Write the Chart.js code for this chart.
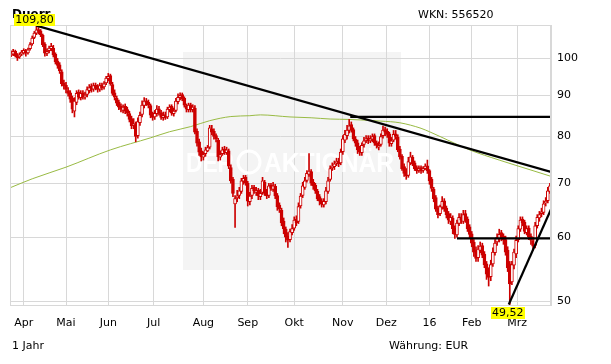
<!DOCTYPE html>
<html>
<head>
<meta charset="utf-8">
<script src="https://cdn.jsdelivr.net/npm/chart.js@4.4.1/dist/chart.umd.min.js"></script>
<style>
  html, body { margin: 0; padding: 0; background: #fff; }
  #wrap { width: 611px; height: 364px; position: relative; }
</style>
</head>
<body>
<div id="wrap"><canvas id="chart"></canvas></div>
<script>
// daily candles, one per trading day (Mar 2015 - Mar 2016)
var open = [
  101, 101.2, 102, 101, 100.4, 101.2, 101.6, 102.2, 101.6, 102.8,
  104.2, 106.2, 107.5, 108.6, 108.2, 106.8, 104.2, 101.4, 102.2, 102.8,
  103, 101.2, 99.2, 98.2, 96.2, 93.2, 92.6, 91.2, 90.6, 89.2,
  86, 88.2, 90.8, 89.4, 90.6, 89.6, 90.2, 91.2, 92.4, 91.6,
  92.6, 92.2, 91.6, 92.6, 92.2, 93.2, 94.4, 95.2, 92.8, 90.6,
  89.2, 88.2, 87.2, 86.2, 87.2, 86.4, 85.4, 84.2, 82.6, 82.8,
  80.2, 83.2, 85.2, 87.4, 88.6, 88.2, 87.4, 85.2, 84.6, 85.4,
  86.6, 85.6, 84.4, 85.2, 84.6, 86.4, 87.2, 85.4, 86.2, 88.4,
  89.4, 90.2, 89.2, 87.4, 86.4, 87.6, 86.4, 86.8, 81.2, 78.8,
  76.8, 75.4, 76.2, 76.8, 77.6, 81.8, 81.2, 80.2, 79.2, 75.4,
  76.2, 77.2, 76.4, 76.8, 73.2, 70.8, 66, 67.2, 67.6, 68.4,
  70.4, 71.2, 70, 66.4, 67.6, 69.2, 68.2, 68.6, 67.4, 68.2,
  70.2, 68.2, 67.6, 69.6, 68.8, 69.4, 67.6, 65.8, 64.8, 62.8,
  61.4, 60.2, 59.6, 60.8, 61.6, 63.2, 62.8, 65.6, 67.6, 69.2,
  70.6, 71.8, 72.4, 70.2, 69.6, 68.4, 67.4, 66.6, 65.8, 66.4,
  68.4, 70.8, 73.2, 73.4, 74.2, 74.6, 74.2, 76.6, 79.2, 80.2,
  81.4, 82.8, 81.6, 79.4, 78.6, 77.2, 76.4, 78.2, 79.2, 79.6,
  79, 79.4, 80.2, 78.6, 77.6, 78.2, 80.2, 81.6, 81.2, 80.6,
  78.4, 79.2, 80.6, 79.8, 77.2, 75.6, 73.4, 72.4, 71.6, 74.2,
  75.4, 74.2, 73.2, 72.6, 73.2, 72.6, 73, 73.6, 72.6, 70.8,
  68.8, 67.2, 65.2, 64.2, 65.4, 66.6, 65.2, 64.2, 62.8, 63.4,
  61.6, 60.4, 62.4, 63.6, 62.8, 64.2, 63.2, 61.8, 60.6, 59.2,
  57.8, 56.6, 57.8, 58.6, 57.2, 55.6, 54.2, 53.6, 55.6, 57.4,
  59.2, 59.8, 60.8, 60.2, 59.6, 57.8, 55.6, 52.8, 55.4, 57.2,
  59.6, 61.4, 63.2, 62.6, 60.8, 61.6, 60.2, 59.4, 58.6, 62,
  63.4, 64.2, 64.4, 66.2, 66.6, 68.4
];
var high = [
  102.2, 102.6, 102.4, 101.4, 101.6, 102.3, 102.8, 102.6, 103, 104.6,
  106.6, 108, 109.8, 109.2, 108.6, 107.2, 104.6, 102.8, 103.6, 104.4,
  103.8, 101.6, 100, 98.8, 96.8, 94, 93.4, 92, 91.2, 89.8,
  89.4, 91.2, 91.4, 91.2, 91.2, 90.8, 92.2, 92.8, 93, 93.2,
  93.2, 92.8, 93.2, 93.2, 93.6, 95, 95.8, 95.6, 93.4, 91.4,
  89.8, 88.8, 87.8, 87.6, 87.8, 87, 86, 84.8, 84.2, 83.4,
  84.4, 85.8, 88.6, 89.4, 89.2, 88.8, 87.8, 85.8, 86.2, 87.4,
  87.2, 86.2, 85.8, 85.8, 87, 87.6, 87.6, 86.8, 89.2, 90.4,
  90.6, 90.6, 89.6, 87.8, 88, 88, 87.6, 87.4, 81.8, 79.4,
  77.4, 76.6, 77.6, 78, 82.6, 82.6, 81.8, 80.6, 79.6, 76.8,
  77.6, 77.8, 77.6, 77.2, 73.8, 71.2, 67.6, 68.6, 69.2, 71,
  71.6, 71.6, 70.4, 68.2, 69.6, 69.6, 69.2, 69, 68.8, 71.2,
  70.6, 68.8, 70, 70, 70.2, 69.8, 68, 66.2, 65.2, 63.4,
  61.8, 60.8, 61.4, 62.2, 63.6, 63.8, 66.2, 68, 70.2, 71.2,
  72.6, 76.2, 72.8, 70.8, 70, 68.8, 67.8, 67, 67, 69.2,
  71.2, 73.6, 74.2, 74.6, 75.2, 75.2, 77.2, 80.2, 81.4, 82.6,
  84, 83.4, 82, 80, 79.2, 77.8, 78.6, 79.8, 80.2, 80.2,
  80.2, 80.6, 80.6, 79, 78.8, 80.6, 82.4, 82.2, 81.8, 81,
  79.8, 81.4, 81.4, 80.4, 77.8, 76, 74, 73, 75.4, 76.5,
  75.8, 74.6, 73.6, 73.6, 73.6, 73.4, 74, 74.8, 72.8, 71.2,
  69.2, 67.6, 65.6, 65.8, 67.4, 67, 65.6, 64.6, 64.2, 63.8,
  62, 63, 64.2, 64.2, 64.8, 64.8, 63.6, 62.2, 61, 59.6,
  58.4, 58.6, 59.2, 59, 57.6, 56, 55, 56.2, 58.2, 59.6,
  60.6, 61.4, 61.2, 60.6, 60.2, 58.4, 56, 56, 58, 60.2,
  62, 63.6, 63.6, 63, 62, 62, 60.6, 60, 62.6, 64,
  64.6, 65.2, 66.6, 67.2, 69.2, 70
];
var low = [
  100.5, 100.8, 100.4, 99.4, 100, 100.8, 101.2, 100.6, 101.2, 102.4,
  103.8, 105.8, 107, 107.2, 106.4, 103.4, 100.6, 100.8, 101.6, 102.2,
  100.4, 98.4, 97.2, 95.8, 92.4, 91.6, 90.6, 89.8, 88.2, 85.6,
  84.6, 87.6, 89, 88.8, 89, 89, 89.6, 90.6, 90.8, 91,
  91.4, 90.8, 91, 91.4, 91.6, 92.8, 93.8, 92.6, 90, 88.8,
  87.4, 86.4, 85.8, 85.6, 85.4, 84.8, 83.4, 81.8, 81.8, 78.8,
  79.6, 82.6, 84.6, 86.8, 87.4, 86.8, 84.4, 83.8, 84, 84.8,
  85, 84, 83.8, 84, 84.2, 85.8, 85, 84.8, 85.8, 87.8,
  88.8, 88.6, 87, 85.8, 85.8, 85.8, 85.8, 80.6, 77.8, 75.8,
  74.6, 74.8, 75.6, 76.6, 77.2, 80.4, 79.4, 78.8, 74.6, 74.8,
  75.8, 76, 76, 73, 70, 67.4, 61.7, 66.4, 67, 68,
  69.8, 69.6, 65.6, 65.8, 67, 68, 67.6, 66.8, 66.8, 67.8,
  67.6, 67, 67.2, 68.6, 68.4, 67, 64.8, 64.4, 62, 60.6,
  59.2, 58.3, 59.2, 60.4, 61.2, 62, 62.4, 65.2, 67.2, 68.8,
  70.2, 71.4, 69.6, 68.8, 68, 66.6, 65.8, 65.4, 65.4, 66,
  68, 70.4, 72.6, 72.8, 73.6, 73.4, 73.8, 76, 78.6, 79.4,
  80.8, 81, 79, 77.8, 76.2, 75.8, 75.8, 77.6, 78.6, 78.4,
  78.6, 78.8, 78, 77.4, 77, 77.8, 79.6, 80.2, 79.8, 77.8,
  77.8, 78.8, 79.4, 76.6, 75, 72.6, 71.4, 70.8, 71.2, 73.8,
  73.6, 72.6, 72, 72.2, 72, 72.2, 72.8, 72, 69.8, 68.4,
  66.4, 64.6, 63.4, 63.8, 65, 64.6, 63.4, 62.4, 62.2, 60.6,
  59.8, 60, 62, 62.4, 62.4, 62.6, 61, 59.8, 58.4, 56.8,
  56, 56, 57.4, 56.6, 55, 53.2, 52.2, 53, 55.2, 57,
  58.6, 59.2, 59.4, 58.8, 57, 54.4, 49.52, 52.4, 54.8, 56.6,
  59.2, 61, 62, 60.6, 60.4, 59.6, 58.8, 57.8, 58.2, 61.6,
  62.8, 63.6, 64, 65.6, 66.2, 68
];
var close = [
  101.5, 102, 100.8, 100.2, 101, 101.8, 102.3, 101.5, 102.5, 104,
  106, 107.5, 108.5, 108, 107, 104, 101.5, 102, 103, 103.5,
  101, 99, 98, 96.5, 93, 92.5, 91.5, 90.5, 89, 86.5,
  88.5, 90.5, 89.5, 90.5, 89.5, 90, 91.5, 92, 91.5, 92.5,
  92, 91.5, 92.5, 92, 93, 94.5, 95, 93, 90.5, 89.5,
  88, 87, 86.5, 87, 86, 85.5, 84, 82.5, 83, 80,
  83.5, 85, 87.5, 88.5, 88, 87.5, 85, 84.5, 85.5, 86.5,
  85.5, 84.5, 85, 84.5, 86.5, 87, 85.5, 86, 88.5, 89.5,
  90, 89, 87.5, 86.5, 87.5, 86.5, 87, 81, 78.5, 76.5,
  75.5, 76, 77, 77.5, 82, 81, 80, 79.5, 75.5, 76,
  77, 76.5, 77, 73.5, 70.5, 68, 67, 67.5, 68.5, 70.5,
  71, 70, 66.5, 67.5, 69, 68.5, 68.5, 67.5, 68, 70.5,
  68, 67.5, 69.5, 69, 69.5, 67.5, 65.5, 65, 62.5, 61.5,
  60, 59.5, 61, 61.5, 63, 62.5, 65.5, 67.5, 69.5, 70.5,
  72, 72.5, 70, 69.5, 68.5, 67, 66.5, 66, 66.5, 68.5,
  70.5, 73, 73.5, 74, 74.5, 74, 76.5, 79.5, 80.5, 81.5,
  82.5, 81.5, 79.5, 78.5, 77, 76.5, 78, 79, 79.5, 79,
  79.5, 80, 78.5, 78, 78, 80, 81.5, 81, 80.5, 78.5,
  79, 80.5, 80, 77, 75.5, 73, 72, 71.5, 74.5, 75.5,
  74, 73, 72.5, 73, 72.5, 73, 73.5, 72.5, 70.5, 69,
  67, 65, 64, 65.5, 66.5, 65, 64, 63, 63.5, 61.5,
  60.5, 62.5, 63.5, 63, 64, 63, 61.5, 60.5, 59, 57.5,
  56.5, 58, 58.5, 57, 55.5, 54, 53.5, 55.5, 57.5, 59,
  60, 60.5, 60, 59.5, 57.5, 55, 52.5, 55.5, 57.5, 59.5,
  61.5, 63, 62.5, 61, 61.5, 60, 59.5, 58.5, 62, 63.5,
  64, 64.5, 66, 66.5, 68.5, 69.5
];

// 200-day average, read at a few places along the curve
var maIdx = [-0.5, 10, 26, 47, 66, 75, 85, 94, 104, 113, 118, 132, 142, 151, 160, 175, 184, 194, 198, 203, 217, 231, 246, 255.5];
var maVal = [69.1, 70.9, 73.3, 77.0, 79.7, 81.1, 82.3, 83.7, 84.7, 84.9, 85.1, 84.6, 84.4, 84.1, 84.0, 83.6, 83.2, 81.9, 81.1, 80.0, 77.0, 74.8, 72.7, 71.4];

// trend lines: [startIdx, startVal, endIdx, endVal]
var trendDown = [12, 109.8, 255.5, 72.3];
var resistance = [160.5, 84.6, 255.5, 84.6];
var support = [211, 59.8, 255.5, 59.8];
var trendUp = [235.5, 49.52, 255.5, 65.0];

var monthLabels = ['Apr', 'Mai', 'Jun', 'Jul', 'Aug', 'Sep', 'Okt', 'Nov', 'Dez', '16', 'Feb', 'Mrz'];
var monthIdx = [6, 26, 46, 67.5, 91, 112, 134, 157, 177.5, 198, 218, 239.5];
var yTicks = [50, 60, 70, 80, 90, 100];

var red = '#cc0000';
var gridCol = '#d8d8d8';
var font = '"DejaVu Sans", Verdana, sans-serif';

var wickData = close.map(function(c, i) { return {x: i, y: [low[i], high[i]]}; });
var bodyData = close.map(function(c, i) { return {x: i, y: [open[i], c]}; });
var bodyFill = close.map(function(c, i) { return c >= open[i] ? '#ffffff' : red; });
var maData = maIdx.map(function(x, i) { return {x: x, y: maVal[i]}; });

function seg(t) { return [{x: t[0], y: t[1]}, {x: t[2], y: t[3]}]; }
function lineSet(t) {
  return {
    type: 'line', data: seg(t), borderColor: '#000', borderWidth: 2.2,
    pointRadius: 0, order: 0
  };
}

function tag(ctx, txt, cx, y, top) {
  ctx.font = '11px ' + font;
  var w = ctx.measureText(txt).width + 3;
  var yy = top ? y : y - 12;
  ctx.fillStyle = '#ffff00';
  ctx.fillRect(Math.round(cx - w / 2), Math.round(yy), Math.round(w), 12);
  ctx.fillStyle = '#000';
  ctx.textAlign = 'center';
  ctx.textBaseline = 'middle';
  ctx.fillText(txt, cx, yy + 6.5);
}

var decor = {
  id: 'decor',
  beforeDraw: function(chart) {
    var ctx = chart.ctx;
    ctx.save();
    ctx.fillStyle = '#fff';
    ctx.fillRect(0, 0, chart.width, chart.height);
    // watermark panel
    ctx.fillStyle = '#f4f4f4';
    ctx.fillRect(183, 52, 218, 218);
    ctx.restore();
  },
  beforeDatasetsDraw: function(chart) {
    var ctx = chart.ctx;
    ctx.save();
    ctx.fillStyle = '#ffffff';
    ctx.strokeStyle = '#ffffff';
    ctx.font = 'bold 28px "Liberation Sans", Arial, sans-serif';
    ctx.textBaseline = 'alphabetic';
    ctx.textAlign = 'left';
    ctx.fillText('DER', 186, 172, 48);
    ctx.lineWidth = 3;
    ctx.beginPath();
    ctx.arc(249, 162, 11, 0, Math.PI * 2);
    ctx.stroke();
    ctx.fillText('AKTIONÄR', 264, 172, 130);
    ctx.restore();
  },
  afterDraw: function(chart) {
    var ctx = chart.ctx;
    var a = chart.chartArea;
    var xs = chart.scales.x, ys = chart.scales.y;
    ctx.save();
    ctx.strokeStyle = gridCol;
    ctx.lineWidth = 1;
    ctx.strokeRect(a.left + 0.5, a.top + 0.5, a.right - a.left - 1, a.bottom - a.top);

    ctx.fillStyle = '#000';
    ctx.textAlign = 'left';
    ctx.textBaseline = 'alphabetic';
    ctx.font = 'bold 12px ' + font;
    ctx.fillText('Duerr', 12, 18);
    ctx.font = '11px ' + font;
    ctx.fillText('WKN: 556520', 418, 18);
    ctx.textBaseline = 'middle';
    ctx.fillText('1 Jahr', 12, 346);
    ctx.fillText('Währung: EUR', 389, 346);

    // high / low tags
    var hi = 0, lo = 0;
    for (var i = 0; i < high.length; i++) {
      if (high[i] > high[hi]) hi = i;
      if (low[i] < low[lo]) lo = i;
    }
    tag(ctx, high[hi].toFixed(2).replace('.', ','), xs.getPixelForValue(hi) - 2, ys.getPixelForValue(high[hi]), false);
    tag(ctx, low[lo].toFixed(2).replace('.', ','), xs.getPixelForValue(lo) - 2, ys.getPixelForValue(low[lo]) + 2, true);
    ctx.restore();
  }
};

new Chart(document.getElementById('chart').getContext('2d'), {
  type: 'bar',
  data: {
    datasets: [
      lineSet(trendDown),
      lineSet(resistance),
      lineSet(support),
      lineSet(trendUp),
      {
        data: bodyData, backgroundColor: bodyFill, borderColor: red,
        borderWidth: 1, borderSkipped: false, barThickness: 3,
        grouped: false, order: 1
      },
      {
        data: wickData, backgroundColor: red, borderWidth: 0,
        barThickness: 1, grouped: false, order: 2
      },
      {
        type: 'line', data: maData, borderColor: '#99bb44', borderWidth: 1,
        pointRadius: 0, cubicInterpolationMode: 'monotone', order: 3
      }
    ]
  },
  options: {
    responsive: true,
    maintainAspectRatio: false,
    animation: false,
    layout: { padding: { left: 10, top: 25, right: 0, bottom: 29 } },
    plugins: { legend: { display: false }, tooltip: { enabled: false } },
    scales: {
      x: {
        type: 'linear', min: -0.5, max: 255.5, offset: false,
        afterBuildTicks: function(s) { s.ticks = monthIdx.map(function(v) { return {value: v}; }); },
        afterFit: function(s) { s.height = 30; },
        ticks: {
          autoSkip: false, maxRotation: 0, padding: 12, color: '#000',
          font: { family: font, size: 11 },
          callback: function(v, i) { return monthLabels[i]; }
        },
        grid: { color: gridCol, drawTicks: false, offset: false },
        border: { color: gridCol }
      },
      y: {
        type: 'logarithmic', position: 'right', min: 49.45, max: 110,
        afterBuildTicks: function(s) { s.ticks = yTicks.map(function(v) { return {value: v}; }); },
        afterFit: function(s) { s.width = 60; },
        ticks: {
          padding: 6, color: '#000',
          font: { family: font, size: 11 },
          callback: function(v) { return v; }
        },
        grid: { color: gridCol, drawTicks: false },
        border: { color: gridCol }
      }
    }
  },
  plugins: [decor]
});
</script>
</body>
</html>
